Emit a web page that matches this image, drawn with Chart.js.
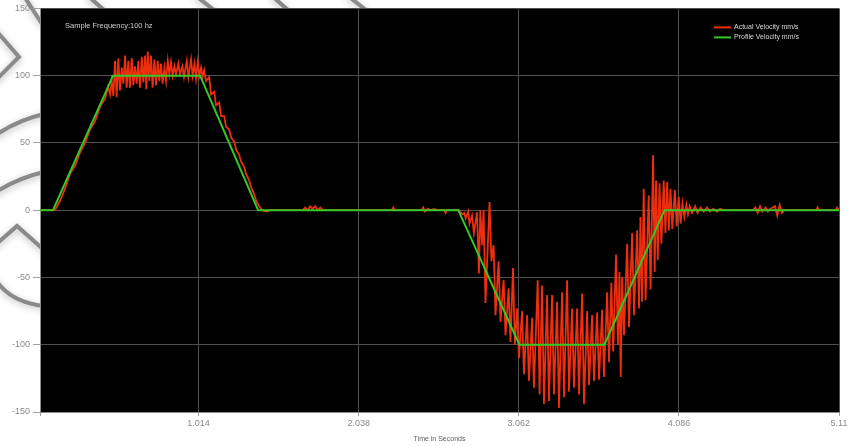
<!DOCTYPE html>
<html>
<head>
<meta charset="utf-8">
<script src="https://cdn.jsdelivr.net/npm/chart.js@4.4.1/dist/chart.umd.min.js"></script>
<style>
  html, body { margin: 0; padding: 0; background: #fff; }
  #wrap { width: 852px; height: 446px; position: relative; }
</style>
</head>
<body>
<div id="wrap"><canvas id="velocity" width="852" height="446"></canvas></div>
<script>
// Motion profile (commanded) velocity, mm/s, at its corner times (s)
const profileTime = [0, 0.083, 0.467, 1.024, 1.395, 2.675, 3.066, 3.610, 3.994, 5.11];
const profileVel  = [0, 0, 100, 100, 0, 0, -100, -100, 0, 0];

// Measured velocity, mm/s, sampled at its turning points (s)
const actualTime = [
  0, 0.096, 0.128, 0.160, 0.192, 0.224, 0.256, 0.288, 0.320, 0.352, 0.384, 0.416, 0.435, 0.448,
  0.459, 0.469, 0.480, 0.490, 0.501, 0.511, 0.523, 0.533, 0.544, 0.554, 0.565, 0.575, 0.587, 0.597,
  0.608, 0.618, 0.629, 0.639, 0.651, 0.661, 0.672, 0.680, 0.689, 0.699, 0.710, 0.720, 0.732, 0.742,
  0.753, 0.763, 0.774, 0.784, 0.796, 0.806, 0.817, 0.827, 0.838, 0.848, 0.860, 0.870, 0.885, 0.895,
  0.911, 0.921, 0.939, 0.949, 0.966, 0.976, 0.988, 0.998, 1.009, 1.019, 1.030, 1.040,
  1.050, 1.062, 1.082, 1.094, 1.114, 1.126, 1.146, 1.158, 1.178, 1.190, 1.210, 1.222, 1.242, 1.254,
  1.274, 1.286, 1.306, 1.318, 1.338, 1.350, 1.370, 1.382, 1.402, 1.421, 1.446, 1.472,
  1.680, 1.696, 1.712, 1.728, 1.744, 1.760, 1.776, 1.792, 1.808,
  2.250, 2.259, 2.270,
  2.440, 2.451, 2.462, 2.480, 2.500, 2.520, 2.541,
  2.586, 2.594, 2.602,
  2.680, 2.700, 2.714, 2.722, 2.739, 2.747,
  2.763, 2.775, 2.795, 2.807, 2.816, 2.828, 2.837, 2.849, 2.875, 2.887, 2.901, 2.913, 2.933, 2.945,
  2.965, 2.977, 2.997, 3.009, 3.025, 3.037, 3.051, 3.063, 3.083, 3.095, 3.115, 3.127, 3.147, 3.159,
  3.183, 3.195, 3.211, 3.223, 3.243, 3.255, 3.275, 3.287, 3.307, 3.319, 3.339, 3.351, 3.371, 3.383,
  3.403, 3.415, 3.435, 3.447, 3.467, 3.479, 3.499, 3.511, 3.531, 3.543, 3.563, 3.575, 3.595, 3.607,
  3.627, 3.639, 3.654, 3.666, 3.684, 3.696, 3.706, 3.714, 3.723, 3.735, 3.755, 3.767, 3.787, 3.799,
  3.819, 3.831, 3.840, 3.850, 3.861, 3.873, 3.893, 3.905, 3.921, 3.931, 3.940, 3.951, 3.962, 3.974,
  3.989, 4.000, 4.011, 4.022, 4.032, 4.044, 4.060, 4.072, 4.085, 4.097, 4.109, 4.121, 4.134, 4.144,
  4.155, 4.170, 4.190, 4.205, 4.225, 4.245, 4.265, 4.285, 4.305, 4.330, 4.350, 4.370,
  4.560, 4.575, 4.590, 4.605, 4.620, 4.640, 4.655, 4.670, 4.700, 4.715, 4.730, 4.745, 4.760,
  4.965, 4.973, 4.981,
  5.090, 5.098, 5.11
];
const actualVel = [
  0, 0, 7, 16, 27, 33, 43, 50, 60, 66, 77, 83, 92, 86,
  96, 85, 111, 84, 113, 89, 106, 94, 115, 91, 111, 91, 113, 93,
  107, 94, 111, 91, 114, 95, 115, 90, 118, 96, 115, 91, 112, 93,
  111, 96, 109, 94, 106, 96, 111, 101, 110, 100, 107, 101, 109, 101,
  107, 99, 111, 99, 112, 100, 109, 98, 110, 100, 106, 99,
  104, 96, 99, 86, 88, 78, 80, 70, 70, 62, 60, 54, 51, 45,
  41, 36, 32, 27, 22, 17, 12, 7, 3, 0, -1, 0,
  0, 2, 0, 3, 1, 3, 0, 2, 0,
  0, 2, 0,
  0, 2, -1, 1, 0, 1, 0,
  0, -2, 0,
  0, -3, -2, -6, -1, -10,
  -4, -17, -1.5, -47, 0, -26, 0, -69, 6, -38, -26, -78, -38, -83,
  -52, -93, -58, -98, -43, -100, -73, -110, -75, -122, -78, -127, -80, -132,
  -52, -137, -56, -144, -63, -142, -63, -137, -68, -147, -61, -139, -52, -135,
  -73, -132, -73, -137, -62, -144, -75, -130, -78, -127, -76, -126, -74, -124,
  -61, -113, -54, -105, -33, -100, -46, -124, -50, -93, -25, -87, -17, -78,
  -15, -73, -5, -68, 16, -67, 11, -59, 41, -46, 22, -37, 20, -25,
  22, -17, 21, -15, 16, -14, 15, -12, 10, -10, 5, -5, 4, -3,
  3, -2, 3, -2, 2, -1, 2, -1, 1, -1, 1, 0,
  0, 2, -2, 3, -1, 2, -1, 1, 3, -4, 4, -2, 0,
  0, 2, 0,
  0, 2, 0
];

// Axis tick positions and labels
const timeTicks = [0, 1.014, 2.038, 3.062, 4.086, 5.11];
const timeTickLabels = ['', '1.014', '2.038', '3.062', '4.086', '5.11'];
const velTicks = [-150, -100, -50, 0, 50, 100, 150];

const seriesNames = ['Actual Velocity mm/s', 'Profile Velocity mm/s'];
const captionText = 'Sample Frequency:100 hz';
const axisTitle = 'Time in Seconds';

const zip = (xs, ys) => xs.map((x, i) => ({ x, y: ys[i] }));

// Grey swirl strokes printed across the white margin
function drawMarginSwirls(ctx) {
  ctx.save();
  ctx.strokeStyle = 'rgba(128,128,128,0.9)';
  ctx.lineWidth = 4;
  ctx.lineCap = 'round';
  ctx.lineJoin = 'miter';
  ctx.shadowColor = 'rgba(0,0,0,0.3)';
  ctx.shadowBlur = 7;
  ctx.shadowOffsetY = 2;
  const path = pts => { ctx.beginPath(); ctx.moveTo(pts[0][0], pts[0][1]); pts.slice(1).forEach(p => ctx.lineTo(p[0], p[1])); ctx.stroke(); };
  path([[-6, 28], [19, 57], [-6, 82]]);
  path([[24, -4], [42, 24]]);
  ctx.beginPath(); ctx.moveTo(-4, 135); ctx.quadraticCurveTo(18, 120, 44, 114); ctx.stroke();
  ctx.beginPath(); ctx.moveTo(-4, 192); ctx.quadraticCurveTo(18, 178, 44, 172); ctx.stroke();
  path([[-6, 246], [17, 226], [44, 250]]);
  ctx.beginPath(); ctx.moveTo(-4, 280); ctx.quadraticCurveTo(10, 302, 44, 306); ctx.stroke();
  path([[88, -4], [104, 10]]);
  path([[196, -4], [214, 10]]);
  path([[272, -4], [288, 10]]);
  path([[348, -4], [366, 10]]);
  ctx.restore();
}

const frame = {
  id: 'frame',
  beforeDraw(chart) {
    const { ctx, chartArea: a } = chart;
    ctx.save();
    ctx.fillStyle = '#ffffff';
    ctx.fillRect(0, 0, chart.width, chart.height);
    drawMarginSwirls(ctx);
    ctx.fillStyle = '#000000';
    ctx.fillRect(a.left, a.top, a.right - a.left, a.bottom - a.top);
    ctx.restore();
  },
  afterDraw(chart) {
    const { ctx, chartArea: a } = chart;
    ctx.save();
    ctx.font = '7.5px "Liberation Sans", Arial, sans-serif';
    ctx.textBaseline = 'middle';
    ctx.fillStyle = '#cfcfcf';
    ctx.fillText(captionText, a.left + 25, a.top + 18);
    // series key, top right
    chart.data.datasets.forEach((ds, i) => {
      const y = a.top + 19 + i * 10;
      ctx.strokeStyle = ds.borderColor;
      ctx.lineWidth = 2;
      ctx.beginPath();
      ctx.moveTo(a.right - 125, y);
      ctx.lineTo(a.right - 108, y);
      ctx.stroke();
      ctx.fillStyle = '#d8d8d8';
      ctx.font = '7px "Liberation Sans", Arial, sans-serif';
      ctx.fillText(ds.label, a.right - 105, y);
    });
    ctx.restore();
  }
};

new Chart(document.getElementById('velocity'), {
  type: 'line',
  data: {
    datasets: [
      {
        label: seriesNames[0],
        data: zip(actualTime, actualVel),
        borderColor: 'rgb(238,46,14)',
        borderWidth: 1.8,
        order: 2
      },
      {
        label: seriesNames[1],
        data: zip(profileTime, profileVel),
        borderColor: 'rgb(52,200,40)',
        borderWidth: 2,
        order: 1
      }
    ]
  },
  options: {
    responsive: false,
    animation: false,
    devicePixelRatio: 1,
    elements: { point: { radius: 0 }, line: { tension: 0 } },
    layout: { padding: { top: 7, right: 13, left: 0, bottom: 0 } },
    plugins: { legend: { display: false }, tooltip: { enabled: false }, title: { display: false } },
    scales: {
      x: {
        type: 'linear',
        min: 0,
        max: 5.11,
        afterBuildTicks: s => { s.ticks = timeTicks.map(v => ({ value: v })); },
        afterFit: s => { s.height = 34; },
        ticks: {
          autoSkip: false,
          maxRotation: 0,
          padding: 2,
          color: '#8a8a8a',
          font: { family: '"Liberation Sans", Arial, sans-serif', size: 9 },
          callback: (v, i) => timeTickLabels[i]
        },
        grid: { color: '#505050', tickColor: '#a0a0a0', tickLength: 4, lineWidth: 1 },
        border: { display: true, color: '#8a8a8a' },
        title: {
          display: true,
          text: axisTitle,
          color: '#606060',
          font: { family: '"Liberation Sans", Arial, sans-serif', size: 7 },
          padding: { top: 2, bottom: 3 }
        }
      },
      y: {
        type: 'linear',
        min: -150,
        max: 150,
        afterBuildTicks: s => { s.ticks = velTicks.map(v => ({ value: v })); },
        afterFit: s => { s.width = 40; },
        ticks: {
          autoSkip: false,
          padding: 3,
          color: '#8a8a8a',
          font: { family: '"Liberation Sans", Arial, sans-serif', size: 9 }
        },
        grid: { color: '#505050', tickColor: '#a0a0a0', tickLength: 7, lineWidth: 1 },
        border: { display: true, color: '#8a8a8a' }
      }
    }
  },
  plugins: [frame]
});
</script>
</body>
</html>
